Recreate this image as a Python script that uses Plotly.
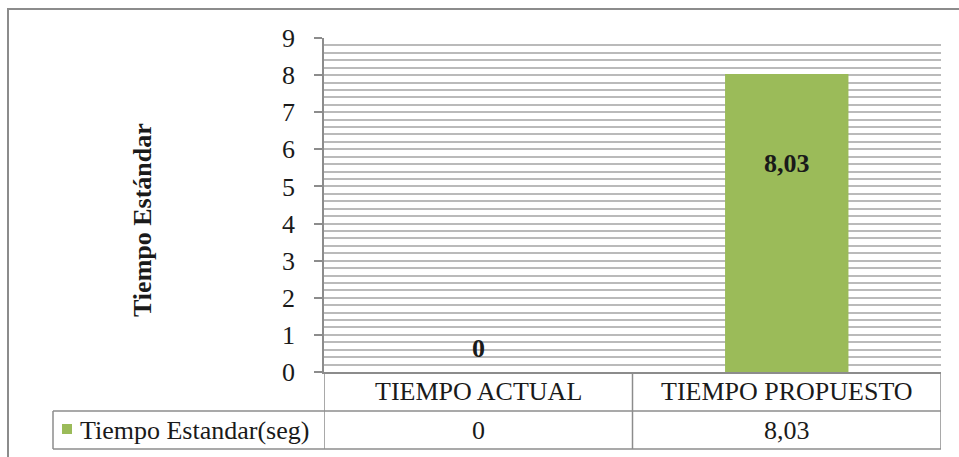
import plotly.graph_objects as go

# --- data -------------------------------------------------------------
categories = ["TIEMPO ACTUAL", "TIEMPO PROPUESTO"]
series_name = "Tiempo Estandar(seg)"
values = [0, 8.03]
y_ticks = list(range(0, 10))
axis_title = "Tiempo Estándar"

# --- styling ----------------------------------------------------------
W, H = 959, 457
L, R, T, B = 324, 18, 38, 85          # plot-area margins (px)
PW, PH = W - L - R, H - T - B
BAR_COLOR = "#9BBB59"
GRID = "#BABABA"
LINE = "#8C8C8C"
FONT = "Liberation Serif"
TXT = "#1a1a1a"
label_shift = [24, -89]               # vertical offset of value labels (px)


def px_x(px):
    return (px - L) / PW


def px_y(py):
    return (H - B - py) / PH


def fmt(v):
    if float(v).is_integer():
        return str(int(v))
    return f"{v:.2f}".replace(".", ",")


fig = go.Figure(
    go.Bar(
        x=categories,
        y=values,
        marker=dict(color=BAR_COLOR, line=dict(width=0)),
        name=series_name,
        hoverinfo="skip",
    )
)

# value labels on the bars
for c, v, dy in zip(categories, values, label_shift):
    fig.add_annotation(
        x=c, y=v, xref="x", yref="y", yshift=dy, text=f"<b>{fmt(v)}</b>",
        showarrow=False, font=dict(family=FONT, size=26, color=TXT),
    )

# --- data table under the axis ---------------------------------------
row1_top, row1_bot, row2_bot = 372, 411, 449
legend_left = 53
shapes = []


def hline(x0, x1, py, w=1.5):
    shapes.append(dict(type="line", xref="paper", yref="paper",
                       x0=px_x(x0), x1=px_x(x1), y0=px_y(py), y1=px_y(py),
                       line=dict(color=LINE, width=w)))


# vertical separators at category boundaries
n = len(categories)
for k in range(n + 1):
    shapes.append(dict(type="line", xref="x", yref="paper",
                       x0=k - 0.5, x1=k - 0.5, y0=px_y(row1_top), y1=px_y(row2_bot),
                       line=dict(color=LINE, width=1.5)))
hline(legend_left, W - R, row1_bot)
hline(legend_left, W - R, row2_bot)
shapes.append(dict(type="line", xref="paper", yref="paper",
                   x0=px_x(legend_left), x1=px_x(legend_left),
                   y0=px_y(row1_bot), y1=px_y(row2_bot),
                   line=dict(color=LINE, width=1.5)))

# legend key swatch
shapes.append(dict(type="rect", xref="paper", yref="paper",
                   x0=px_x(62), x1=px_x(72), y0=px_y(424), y1=px_y(434),
                   fillcolor=BAR_COLOR, line=dict(width=0)))

# outer chart border
shapes.append(dict(type="rect", xref="paper", yref="paper",
                   x0=px_x(8), x1=px_x(W + 10), y0=px_y(9), y1=px_y(H + 10),
                   line=dict(color=LINE, width=2), fillcolor="rgba(0,0,0,0)"))

row1_mid = (row1_top + row1_bot) / 2
row2_mid = (row1_bot + row2_bot) / 2
for c, v in zip(categories, values):
    fig.add_annotation(x=c, xref="x", y=px_y(row1_mid), yref="paper",
                       text=c, showarrow=False, yanchor="middle",
                       font=dict(family=FONT, size=26, color=TXT))
    fig.add_annotation(x=c, xref="x", y=px_y(row2_mid), yref="paper",
                       text=fmt(v), showarrow=False, yanchor="middle",
                       font=dict(family=FONT, size=26, color=TXT))
fig.add_annotation(x=px_x(78), xref="paper", y=px_y(row2_mid), yref="paper",
                   text=series_name, showarrow=False, xanchor="left",
                   yanchor="middle", font=dict(family=FONT, size=26, color=TXT))

# y axis title
fig.add_annotation(x=px_x(142), xref="paper", y=px_y(220), yref="paper",
                   text=f"<b>{axis_title}</b>", textangle=-90, showarrow=False,
                   xanchor="center", yanchor="middle",
                   font=dict(family=FONT, size=26, color=TXT))

fig.update_layout(
    width=W, height=H,
    margin=dict(l=L, r=R, t=T, b=B),
    paper_bgcolor="white", plot_bgcolor="white",
    showlegend=False, bargap=0.6,
    shapes=shapes,
    xaxis=dict(showticklabels=False, showgrid=False, zeroline=False,
               showline=True, linecolor=LINE, linewidth=1.5,
               ticks="", range=[-0.5, n - 0.5], fixedrange=True),
    yaxis=dict(range=[0, 9], tickvals=y_ticks, ticktext=[str(t) for t in y_ticks],
               showgrid=True, gridcolor=GRID, gridwidth=1.5,
               minor=dict(dtick=0.2, showgrid=True, gridcolor=GRID, gridwidth=1.5),
               zeroline=False, showline=True, linecolor=LINE, linewidth=1.5,
               ticks="outside", ticklen=8, tickcolor=LINE, tickwidth=1.5,
               ticklabelstandoff=14,
               tickfont=dict(family=FONT, size=26, color=TXT), fixedrange=True),
    font=dict(family=FONT, color=TXT),
)

fig.write_html("out.html", config={"displayModeBar": False})
